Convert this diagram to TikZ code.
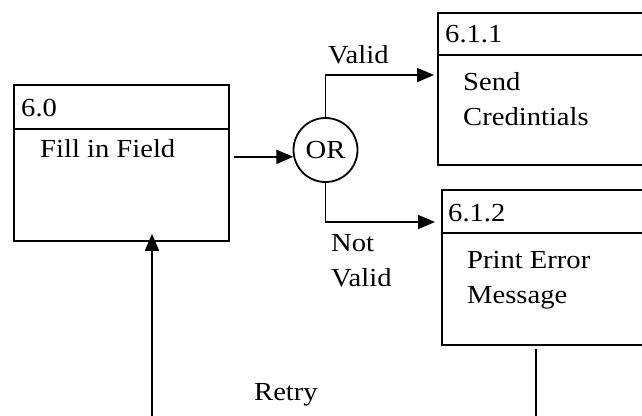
\documentclass[tikz,border=0pt]{standalone}
\usepackage{fontspec}
\setmainfont{Liberation Serif}[FakeStretch=1.1]
\usetikzlibrary{arrows.meta}
\begin{document}
\begin{tikzpicture}[x=1pt,y=-1pt,
  every node/.style={font=\fontsize{26}{30}\selectfont},
  box/.style={draw,line width=1.8pt,rectangle,anchor=north west,inner sep=0},
  lbl/.style={anchor=base west,inner sep=0},
  arr/.style={line width=1.8pt,-{Triangle[length=17pt,width=14pt]}},
  ln/.style={line width=1.8pt}]
\useasboundingbox (0,0) rectangle (642,415);
\clip (0,0) rectangle (642,415);
\fill[white] (0,0) rectangle (642,415);
% boxes
\node[box,minimum width=215pt,minimum height=156pt] (p60) at (13,84) {};
\node[box,minimum width=240pt,minimum height=152pt] (p611) at (437,12) {};
\node[box,minimum width=240pt,minimum height=155pt] (p612) at (441,189) {};
\draw[ln] (p60.west |- 0,129) -- (p60.east |- 0,129);
\draw[ln] (p611.west |- 0,55) -- (p611.east |- 0,55);
\draw[ln] (p612.west |- 0,233) -- (p612.east |- 0,233);
% texts
\node[lbl] (t60) at (21,116) {6.0};
\node[lbl] (f60) at (40,157) {Fill in Field};
\node[lbl] (t611) at (445,42) {6.1.1};
\node[lbl] (s1) at (463,90) {Send};
\node[lbl] (s2) at (463,125) {Credintials};
\node[lbl] (t612) at (448,221) {6.1.2};
\node[lbl] (e1) at (467,268) {Print Error};
\node[lbl] (e2) at (467,303) {Message};
% OR
\node[draw,circle,line width=1.8pt,minimum size=64pt,inner sep=0] (or) at (325.5,150) {OR};
% connectors
\draw[arr] ([xshift=4pt]p60.east |- or.192) -- (or.192);
\draw[arr] (or.north) |- ([xshift=-3pt]p611.north west |- 0,75);
\node[lbl] (lv) at (328,63) {Valid};
\draw[arr] (or.south) |- ([xshift=-6pt]p612.north west |- 0,222);
\node[lbl] (ln1) at (331,251) {Not};
\node[lbl] (ln2) at (331,286) {Valid};
\coordinate (rb) at (152,425);
\draw[arr] (rb) -- ([yshift=8pt]p60.south -| rb);
\node[lbl] (rt) at (254,400) {Retry};
\coordinate (db) at (536,425);
\draw[ln] ([yshift=-3pt]p612.south -| db) -- (db);
\end{tikzpicture}
\end{document}
